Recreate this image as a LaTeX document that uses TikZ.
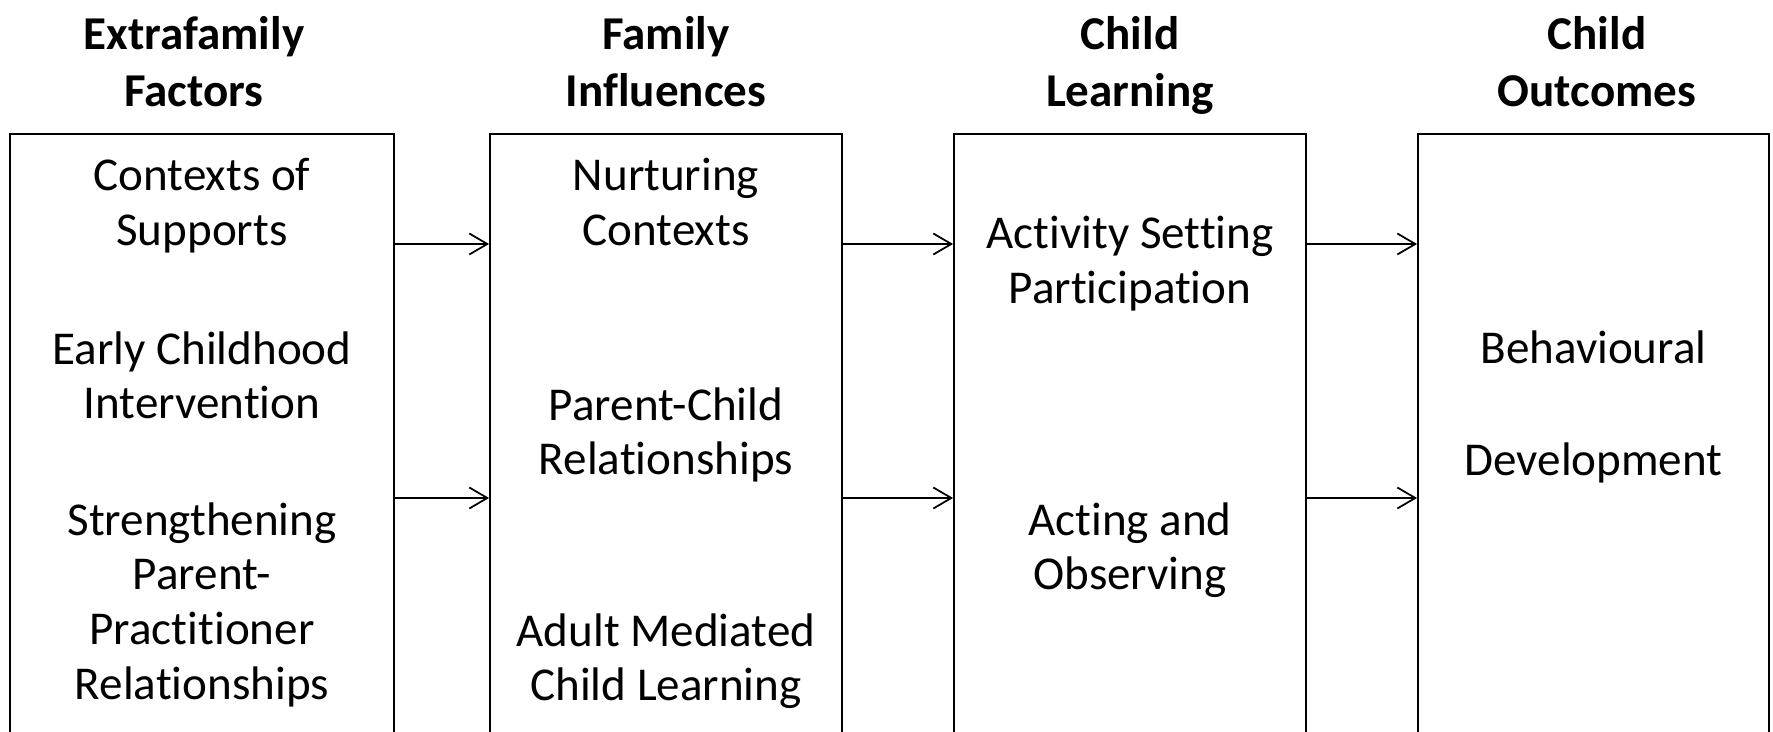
\documentclass[tikz,border=0pt]{standalone}
\usepackage{fontspec}
\setmainfont{Carlito}[Ligatures=NoCommon]
\usetikzlibrary{arrows.meta}
\tikzset{
  stage/.style={draw, line width=1.1pt, minimum width=#1, minimum height=12.8cm, anchor=north, inner sep=0pt},
  words/.style={anchor=north, inner sep=0pt, align=center, font=\fontsize{26.8}{31.2}\selectfont, execute at begin node=\strut},
  head/.style={words, font=\fontsize{26.8}{32.72}\selectfont\bfseries},
  flow/.style={line width=1pt, -{Straight Barb[length=0.36cm, width=0.42cm, line width=1pt]}}
}
\begin{document}
\begin{tikzpicture}[x=0.02cm, y=-0.02cm]
\useasboundingbox (0,0) rectangle (1773,732);
\clip (0,0) rectangle (1773,732);
\node[stage=7.68cm] (ext) at (202,133) {};
\node[stage=7.04cm] (fam) at (666,133) {};
\node[stage=7.04cm] (lrn) at (1130,133) {};
\node[stage=7.02cm] (out) at (1593.5,133) {};
\node[head] (extH) at (194,16) {Extrafamily\\Factors};
\node[head] (famH) at (666,16) {Family\\Influences};
\node[head] (lrnH) at (1130,16) {Child\\Learning};
\node[head] (outH) at (1597,16) {Child\\Outcomes};
\node[words] (ext1) at (202,158) {Contexts of\\Supports};
\node[words] (ext2) at (202,331) {Early Childhood\\Intervention};
\node[words] (ext3) at (202,502) {Strengthening\\Parent-\\Practitioner\\Relationships};
\node[words] (fam1) at (666,158) {Nurturing\\Contexts};
\node[words] (fam2) at (666,387) {Parent-Child\\Relationships};
\node[words] (fam3) at (666,613) {Adult Mediated\\Child Learning};
\node[words] (lrn1) at (1130,216) {Activity Setting\\Participation};
\node[words] (lrn2) at (1130,502) {Acting and\\Observing};
\node[words] (out1) at (1593.5,325) {Behavioural};
\node[words] (out2) at (1593.5,437) {Development};
\coordinate (r1) at (0,244);
\coordinate (r2) at (0,498);
\foreach \a/\b in {ext/fam, fam/lrn, lrn/out}
  \foreach \r in {r1, r2}
    \draw[flow] (\a.east |- \r) -- (\b.west |- \r);
\end{tikzpicture}
\end{document}
